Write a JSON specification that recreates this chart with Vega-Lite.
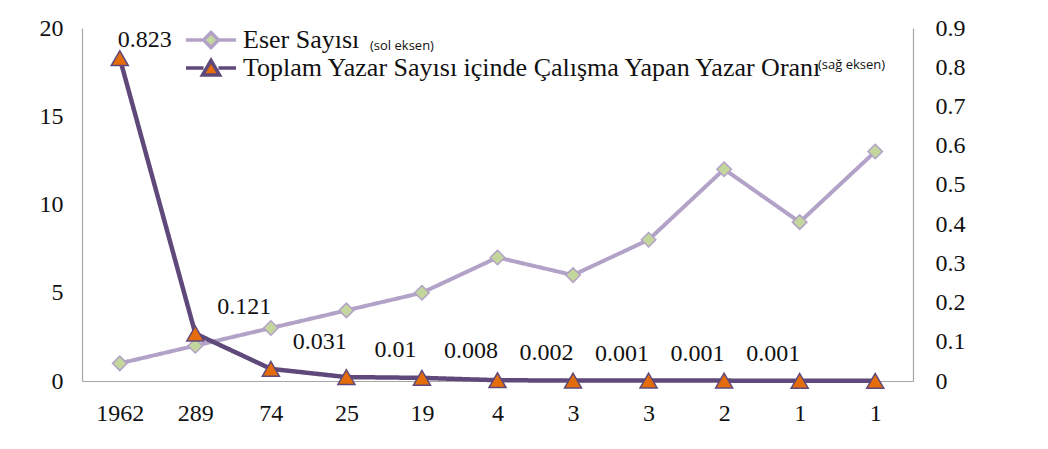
{
  "$schema": "https://vega.github.io/schema/vega-lite/v6.json",
  "width": 831,
  "height": 353,
  "autosize": "none",
  "padding": {"left": 82, "top": 28, "right": 135, "bottom": 68},
  "background": "white",
  "config": {
    "view": {"stroke": null},
    "font": "Liberation Serif",
    "axis": {"labelFont": "Liberation Serif", "labelFontSize": 24, "labelColor": "#111", "ticks": false, "grid": false, "domainColor": "#a6a6a6", "domainWidth": 1.2, "title": null}
  },
  "data": {"values": [
    {"i": 1, "k": "1962_1", "eser": 1, "oran": 0.823, "lbl": "0.823"},
    {"i": 2, "k": "289_2", "eser": 2, "oran": 0.121, "lbl": "0.121"},
    {"i": 3, "k": "74_3", "eser": 3, "oran": 0.031, "lbl": "0.031"},
    {"i": 4, "k": "25_4", "eser": 4, "oran": 0.01, "lbl": "0.01"},
    {"i": 5, "k": "19_5", "eser": 5, "oran": 0.008, "lbl": "0.008"},
    {"i": 6, "k": "4_6", "eser": 7, "oran": 0.002, "lbl": "0.002"},
    {"i": 7, "k": "3_7", "eser": 6, "oran": 0.001, "lbl": "0.001"},
    {"i": 8, "k": "3_8", "eser": 8, "oran": 0.001, "lbl": "0.001"},
    {"i": 9, "k": "2_9", "eser": 12, "oran": 0.001, "lbl": "0.001"},
    {"i": 10, "k": "1_10", "eser": 9, "oran": 0.0005, "lbl": null},
    {"i": 11, "k": "1_11", "eser": 13, "oran": 0.0005, "lbl": null}
  ]},
  "encoding": {
    "x": {"field": "k", "type": "ordinal", "sort": {"field": "i"}, "scale": {"type": "point", "padding": 0.5},
      "axis": {"labelExpr": "split(datum.label, '_')[0]", "labelPadding": 20, "labelAngle": 0}}
  },
  "layer": [
    {
      "encoding": {
        "y": {"field": "eser", "type": "quantitative", "scale": {"domain": [0, 20], "nice": false},
          "axis": {"orient": "left", "values": [0, 5, 10, 15, 20], "labelPadding": 19}}
      },
      "layer": [
        {
          "mark": {"type": "line"},
          "encoding": {
            "color": {"datum": "Eser Sayısı", "type": "nominal",
              "scale": {"domain": ["Eser Sayısı", "Toplam Yazar Sayısı içinde Çalışma Yapan Yazar Oranı"], "range": ["#b3a2c7", "#5f497a"]},
              "legend": {
                "orient": "none", "legendX": 116, "legendY": -1, "title": null, "padding": 0,
                "labelFont": "Liberation Serif", "labelFontSize": 26, "labelColor": "#111", "labelOffset": 19,
                "symbolSize": 400, "symbolStrokeWidth": 3.5, "rowPadding": -3, "labelLimit": 800,
                "encode": {"symbols": {"update": {
                  "shape": {"signal": "datum.value === 'Eser Sayısı' ? 'M-2.5,0H-0.75M0,-0.75L0.75,0L0,0.75L-0.75,0ZM0.75,0H2.5' : 'M-2.5,0H-0.75M0.75,0H2.5M0,-0.75L0.85,0.7L-0.85,0.7Z'"},
                  "fill": {"signal": "datum.value === 'Eser Sayısı' ? '#c3d69b' : '#e46c0a'"},
                  "stroke": {"signal": "datum.value === 'Eser Sayısı' ? '#b3a2c7' : '#5f497a'"},
                  "strokeWidth": {"value": 3.5},
                  "opacity": {"value": 1},
                  "size": {"value": 400}
                }}}
              }},
            "strokeDash": {"datum": "(sol eksen)", "type": "nominal",
              "scale": {"domain": ["(sol eksen)", "(sağ eksen)"], "range": [[1, 0], [1, 0]]},
              "legend": {
                "orient": "none", "legendX": 275, "legendY": 11, "title": null, "padding": 0, "values": ["(sol eksen)"],
                "labelFont": "Open Sans", "labelFontSize": 13, "labelColor": "#111", "labelOffset": 0,
                "symbolSize": 0, "symbolOpacity": 0, "symbolStrokeWidth": 0
              }},
            "strokeWidth": {"datum": "sol", "type": "ordinal",
              "scale": {"domain": ["sol", "sağ"], "range": [4, 4.5]},
              "legend": {
                "orient": "none", "legendX": 723, "legendY": 30, "title": null, "padding": 0, "values": ["sağ"],
                "labelExpr": "'(' + datum.label + ' eksen)'",
                "labelFont": "Open Sans", "labelFontSize": 13, "labelColor": "#111", "labelOffset": 0,
                "symbolSize": 0, "symbolOpacity": 0, "symbolStrokeWidth": 0
              }}
          }
        },
        {
          "mark": {"type": "point", "shape": "diamond", "filled": true, "fill": "#c3d69b", "stroke": "#b3a2c7", "strokeWidth": 1.5, "size": 210, "opacity": 1}
        }
      ]
    },
    {
      "encoding": {
        "y": {"field": "oran", "type": "quantitative", "scale": {"domain": [0, 0.9], "nice": false},
          "axis": {"orient": "right", "values": [0, 0.1, 0.2, 0.3, 0.4, 0.5, 0.6, 0.7, 0.8, 0.9], "format": ".1~f", "labelPadding": 22}}
      },
      "layer": [
        {
          "mark": {"type": "line"},
          "encoding": {
            "color": {"datum": "Toplam Yazar Sayısı içinde Çalışma Yapan Yazar Oranı", "type": "nominal"},
            "strokeDash": {"datum": "(sağ eksen)", "type": "nominal"},
            "strokeWidth": {"datum": "sağ", "type": "ordinal"}
          }
        },
        {
          "mark": {"type": "point", "shape": "triangle-up", "filled": true, "fill": "#e46c0a", "stroke": "#5f497a", "strokeWidth": 1.5, "size": 290, "opacity": 1}
        },
        {
          "transform": [{"filter": "datum.lbl != null && datum.i > 1"}],
          "mark": {"type": "text", "font": "Liberation Serif", "fontSize": 24, "color": "#111", "dx": 49, "dy": -27},
          "encoding": {"text": {"field": "lbl"}}
        },
        {
          "transform": [{"filter": "datum.i == 1"}],
          "mark": {"type": "text", "font": "Liberation Serif", "fontSize": 24, "color": "#111", "dx": 25, "dy": -18},
          "encoding": {"text": {"field": "lbl"}}
        }
      ]
    }
  ],
  "resolve": {"scale": {"y": "independent"}}
}
